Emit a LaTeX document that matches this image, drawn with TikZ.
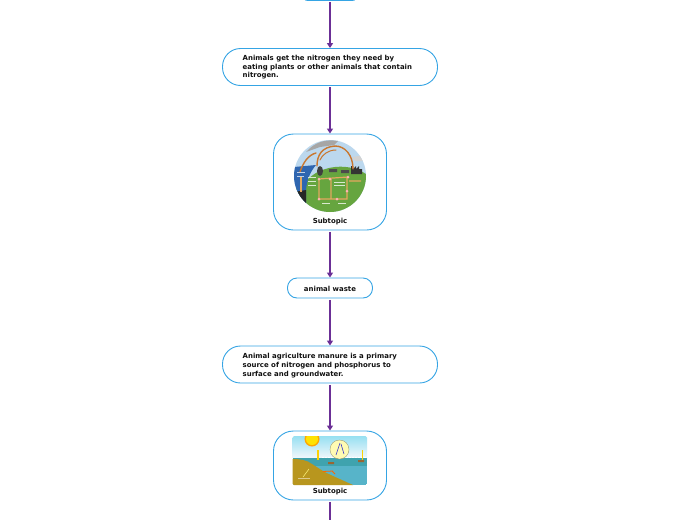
\documentclass[tikz,border=0pt]{standalone}
\usepackage{fontspec}
\setmainfont{DejaVu Sans}
\usetikzlibrary{arrows.meta}
\definecolor{boxblue}{HTML}{35A4E4}
\definecolor{arrowpurple}{HTML}{6B2F96}
\definecolor{inktext}{HTML}{111111}
\definecolor{orangeflow}{HTML}{C9772F}
\definecolor{paleflow}{HTML}{E3A85F}
\definecolor{grassgreen}{HTML}{66A53F}
\definecolor{seablue}{HTML}{2F66B0}
\definecolor{skyblue}{HTML}{BCD8EE}
\definecolor{landtan}{HTML}{B8961E}
\definecolor{watertop}{HTML}{3FA3AE}
\definecolor{waterlow}{HTML}{57B4C9}
\tikzset{
 x=1pt,y=-1pt,
 topicbox/.style={draw=boxblue,line width=0.9pt,fill=white,inner sep=0pt},
 wide/.style={topicbox,rounded corners=18pt,minimum width=215pt,minimum height=37pt},
 tall/.style={topicbox,rounded corners=20pt,minimum width=113pt},
 small/.style={topicbox,rounded corners=9.5pt,minimum width=85pt,minimum height=20pt},
 txt/.style={font=\fontsize{6.95pt}{8.7pt}\selectfont\bfseries,text=inktext,inner sep=0pt},
 link/.style={draw=arrowpurple,line width=1.3pt,-{Triangle[length=5pt,width=6pt]},shorten <=1.5pt},
 flow/.style={draw=orangeflow,line width=1.4pt,line cap=round},
 pale/.style={draw=paleflow,line width=1.2pt},
}
\begin{document}
\begin{tikzpicture}
\useasboundingbox (0,0) rectangle (697,520);
\begin{scope}
\clip (0,0) rectangle (697,520);
\node[topicbox,rounded corners=6pt,minimum width=56pt,minimum height=20pt] (n0) at (330,-9.5) {};
\node[wide] (n1) at (330,67) {};
\node[tall,minimum height=96pt] (n2) at (330,182) {};
\node[small] (n3) at (330,288) {};
\node[wide] (n4) at (330,364.5) {};
\node[tall,minimum height=69pt] (n5) at (330,465.5) {};
\coordinate (end) at (330,524);
\draw[link] (n0.south) -- (n1.north);
\draw[link] (n1.south) -- (n2.north);
\draw[link] (n2.south) -- (n3.north);
\draw[link] (n3.south) -- (n4.north);
\draw[link] (n4.south) -- (n5.north);
\draw[draw=arrowpurple,line width=1.3pt,shorten <=1.5pt] (n5.south) -- (end);
\end{scope}
\node[txt,anchor=north west,align=left] (t1) at (242.5,55.1) {Animals get the nitrogen they need by\\eating plants or other animals that contain\\nitrogen.};
\node[txt,anchor=north west,align=left] (t4) at (242.5,353.2) {Animal agriculture manure is a primary\\source of nitrogen and phosphorus to\\surface and groundwater.};
\node[txt] (t3) at (330,288.9) {animal waste};
\node[txt] (t2) at (330,222) {Subtopic};
\node[txt] (t5) at (330,492) {Subtopic};
% cycle picture
\begin{scope}
\clip (330,176) circle (36);
\fill[skyblue] (294,140) rectangle (366,212);
\fill[grassgreen] (294,212) -- (294,190) -- (306,182) .. controls (315,168) and (345,160) .. (366,174) -- (366,212) -- cycle;
\fill[seablue] (294,167) -- (316,165) .. controls (310,172) and (307,180) .. (306,190) -- (306,212) -- (294,212) -- cycle;
\fill[black!85] (294,192) -- (306,190) -- (306,206) -- (313,212) -- (294,212) -- cycle;
\fill[gray!70] (306,152) .. controls (315,142) and (325,139) .. (338,141) -- (334,145) -- (320,147) -- cycle;
\fill[gray!35] (352,157) -- (366,155) -- (366,161) -- (355,161) -- cycle;
\fill[black!80] (351,174) -- (351,166) -- (353,166) -- (353,169) -- (356,166) -- (356,169) -- (359,166) -- (359,169) -- (362,169) -- (362,174) -- cycle;
\fill[black!75] (320,171) ellipse (3 and 5);
\draw[flow] (300,172) .. controls (303,163) and (308,155) .. (316,153);
\draw[flow] (317,166) .. controls (317,155) and (322,147) .. (335,146) .. controls (345,146) and (353,155) .. (353,169);
\draw[flow,line width=1pt] (336,150) .. controls (328,150) and (322,155) .. (320,160);
\draw[pale] (319,179) -- (319,199) -- (337,199) -- (347,199) -- (347,177) (331,179) -- (331,199) (319,179) -- (348,177) (349,181) -- (361,181);
\draw[pale] (301,177) -- (301,192);
\fill[black!70] (329,169) rectangle (337,172) (341,170) rectangle (349,173);
\foreach \p/\q in {319/179,330/179,348/177,347/191,319/199,337/199}{\fill[white!70!red] (\p,\q) circle (1.5);}
\draw[white!75!grassgreen,line width=0.3pt] (334,182) -- (345,182) (334,185) -- (345,185) (308,177) -- (316,177) (308,181) -- (316,181) (308,185) -- (316,185) (322,203) -- (330,203) (338,203) -- (346,203);
\draw[white!70!seablue,line width=0.3pt] (297,172) -- (305,172) (297,176) -- (304,176);
\end{scope}
% lake picture
\begin{scope}
\clip[rounded corners=1.5pt] (292.5,436) rectangle (367,485);
\shade[top color=skyblue!80!cyan,bottom color=white!80!skyblue] (292.5,436) rectangle (367,458);
\fill[watertop] (292.5,458) rectangle (367,466);
\fill[waterlow] (292.5,466) rectangle (367,485);
\draw[white,line width=0.5pt,dash pattern=on 1.5pt off 1.5pt] (322,457.5) -- (367,457.5);
\fill[landtan] (292.5,459) .. controls (300,459) and (307,460) .. (312,464) -- (323,471) .. controls (330,475) and (340,479) .. (353,485) -- (292.5,485) -- cycle;
\fill[orange!70!yellow] (312,439) circle (7.5);
\fill[yellow!85!orange] (312,439) circle (6);
\fill[yellow!30!white] (339.5,449.5) circle (9.5);
\draw[gray!70!olive,line width=0.3pt] (339.5,449.5) circle (9.5);
\draw[blue!60!gray,line width=0.6pt] (336,455) -- (340,443) (341,444) -- (344,454);
\draw[yellow!70!orange,line width=1.1pt] (318,450) -- (318,460) (362.5,450) -- (362.5,460);
\fill[brown!80!black] (328,462) rectangle (334,464) (358,460) rectangle (364,462);
\draw[orange!80!red,line width=0.8pt] (323,471.5) -- (333,471) (332,471) -- (335,474);
\draw[yellow!50!white,line width=0.5pt] (303,477) -- (309,469);
\draw[white!50!landtan,line width=0.4pt] (298,478) -- (310,478);
\end{scope}
\end{tikzpicture}
\end{document}
